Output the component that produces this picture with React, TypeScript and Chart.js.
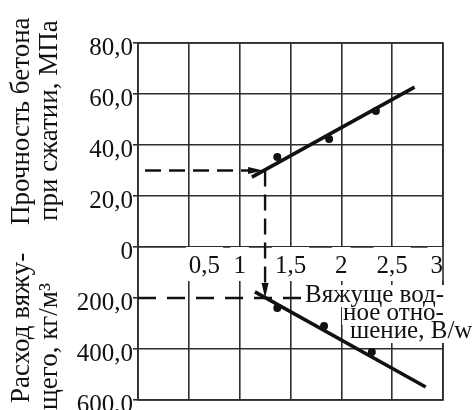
import React, { useEffect, useRef } from 'react';
import { Chart, registerables } from 'chart.js';

Chart.register(...registerables);

// ---- data ----
const xTickStep = 0.5;
const xMin = 0;
const xMax = 3;
const strengthMin = 0;
const strengthMax = 80;
const strengthStep = 20;
const binderMin = 0;
const binderMax = 600;
const binderStep = 200;

const strengthPointsWB = [1.37, 1.88, 2.34];
const strengthPoints = [35.3, 42.4, 53.3];
const strengthFitWB = [1.12, 2.72];
const strengthFit = [27.4, 62.7];

const binderPointsWB = [1.37, 1.83, 2.3];
const binderPoints = [239, 310, 412];
const binderFitWB = [1.15, 2.83];
const binderFit = [176, 549];

const guideWB = 1.25;
const guideStrength = 30;
const guideBinder = 200;
const guideStrengthLineWB = [0, 1.23];
const guideBinderLineWB = [0, 1.62];

const strengthTitle = ['Прочность бетона', 'при сжатии, МПа'];
const binderTitle = ['Расход вяжу-', 'щего, кг/м³'];
const ratioLabel = ['Вяжуще вод-', 'ное отно-', 'шение, B/w'];

// ---- styles ----
const SERIF = "'Liberation Serif', 'Times New Roman', serif";
const INK = '#111111';
const GRID = '#2e2e2e';

const fmtY = (v: number) => (v === 0 ? '0' : v.toFixed(1).replace('.', ','));

const overlayPlugin = {
  id: 'overlay',
  beforeDatasetsDraw(chart: any) {
    const { ctx, chartArea: a } = chart;
    ctx.save();
    ctx.strokeStyle = GRID;
    ctx.lineWidth = 1.6;
    ctx.strokeRect(a.left, a.top, a.right - a.left, a.bottom - a.top);
    const xs = [305, 343, 350];
    const ys = [302, 320, 338];
    ctx.font = `25px ${SERIF}`;
    ctx.textBaseline = 'alphabetic';
    ctx.textAlign = 'left';
    ratioLabel.forEach((t, i) => {
      const w = ctx.measureText(t).width;
      ctx.fillStyle = '#ffffff';
      ctx.fillRect(xs[i] - 1, ys[i] - 17, w + 2, 22);
    });
    ctx.fillStyle = INK;
    ratioLabel.forEach((t, i) => ctx.fillText(t, xs[i], ys[i]));
    ctx.restore();
  },
  afterDatasetsDraw(chart: any) {
    const { ctx } = chart;
    const sx = chart.scales.x;
    const sy = chart.scales.y;
    const sy2 = chart.scales.y2;
    const x = sx.getPixelForValue(guideWB);
    const yTop = sy.getPixelForValue(guideStrength);
    const yBot = sy2.getPixelForValue(guideBinder);
    ctx.save();
    ctx.strokeStyle = INK;
    ctx.lineWidth = 2.4;
    ctx.setLineDash([16, 8]);
    ctx.beginPath();
    ctx.moveTo(x, yTop);
    ctx.lineTo(x, yBot - 8);
    ctx.stroke();
    ctx.setLineDash([]);
    ctx.fillStyle = INK;
    ctx.beginPath();
    ctx.moveTo(x, yBot);
    ctx.lineTo(x - 3.5, yBot - 15);
    ctx.lineTo(x + 3.5, yBot - 15);
    ctx.closePath();
    ctx.fill();
    const ax = sx.getPixelForValue(guideStrengthLineWB[1]);
    ctx.beginPath();
    ctx.moveTo(ax, yTop);
    ctx.lineTo(ax - 15, yTop - 3.5);
    ctx.lineTo(ax - 15, yTop + 3.5);
    ctx.closePath();
    ctx.fill();
    ctx.restore();
  },
  afterDraw(chart: any) {
    const { ctx } = chart;
    ctx.save();
    ctx.font = `27px ${SERIF}`;
    ctx.fillStyle = INK;
    ctx.textAlign = 'left';
    ctx.textBaseline = 'alphabetic';
    const put = (t: string, bx: number, startY: number) => {
      ctx.save();
      ctx.translate(bx, startY);
      ctx.rotate(-Math.PI / 2);
      ctx.fillText(t, 0, 0);
      ctx.restore();
    };
    put(strengthTitle[0], 29, 225);
    put(strengthTitle[1], 57, 221);
    put(binderTitle[0], 29, 403);
    put(binderTitle[1], 57, 410);
    ctx.restore();
  },
};

export default function App() {
  const ref = useRef<HTMLCanvasElement | null>(null);
  useEffect(() => {
    if (!ref.current) return;
    const pts = (xs: number[], ys: number[]) => xs.map((x, i) => ({ x, y: ys[i] }));
    const chart = new Chart(ref.current, {
      type: 'scatter',
      data: {
        datasets: [
          {
            data: pts(guideStrengthLineWB, [guideStrength, guideStrength]),
            yAxisID: 'y',
            showLine: true,
            borderColor: INK,
            borderWidth: 2.4,
            borderDash: [16, 8],
            borderDashOffset: 17,
            pointRadius: 0,
          },
          {
            data: pts(guideBinderLineWB, [guideBinder, guideBinder]),
            yAxisID: 'y2',
            showLine: true,
            borderColor: INK,
            borderWidth: 2.4,
            borderDash: [18, 11],
            pointRadius: 0,
          },
          {
            data: pts(strengthFitWB, strengthFit),
            yAxisID: 'y',
            showLine: true,
            borderColor: INK,
            borderWidth: 3.5,
            pointRadius: 0,
          },
          {
            data: pts(strengthPointsWB, strengthPoints),
            yAxisID: 'y',
            pointRadius: 4,
            backgroundColor: INK,
            borderWidth: 0,
          },
          {
            data: pts(binderFitWB, binderFit),
            yAxisID: 'y2',
            showLine: true,
            borderColor: INK,
            borderWidth: 3.5,
            pointRadius: 0,
          },
          {
            data: pts(binderPointsWB, binderPoints),
            yAxisID: 'y2',
            pointRadius: 4,
            backgroundColor: INK,
            borderWidth: 0,
          },
        ],
      },
      options: {
        animation: false,
        responsive: false,
        devicePixelRatio: 1,
        layout: { padding: { left: 0, top: 43, right: 32, bottom: 10 } },
        plugins: { legend: { display: false }, tooltip: { enabled: false } },
        scales: {
          x: {
            type: 'linear',
            position: { y2: 0 } as any,
            min: xMin,
            max: xMax,
            ticks: {
              stepSize: xTickStep,
              autoSkip: false,
              callback: (v: any) => (v === 0 ? null : String(v).replace('.', ',')),
              font: { family: SERIF, size: 25 },
              color: INK,
              padding: 4,
              maxRotation: 0,
              minRotation: 0,
              align: 'inner',
              showLabelBackdrop: true,
              backdropColor: '#ffffff',
              backdropPadding: { top: 4, bottom: 0, left: 3, right: 3 },
            } as any,
            grid: { color: GRID, lineWidth: 1.6, drawTicks: false },
            border: { display: true, color: GRID, width: 1.6 },
            afterFit: (s: any) => {
              s.height = 0;
              s.paddingLeft = 0;
              s.paddingRight = 0;
            },
          },
          y2: {
            type: 'linear',
            position: 'left',
            stack: 'panels',
            stackWeight: 3,
            reverse: true,
            min: binderMin,
            max: binderMax,
            ticks: {
              stepSize: binderStep,
              autoSkip: false,
              callback: (v: any) => (v === 0 ? null : fmtY(v)),
              font: { family: SERIF, size: 25 },
              color: INK,
              padding: 0,
              labelOffset: 5,
            },
            grid: {
              color: (c: any) => (c.tick && c.tick.value === guideBinder ? 'rgba(0,0,0,0)' : GRID),
              lineWidth: 1.6,
              tickLength: 5,
              tickColor: GRID,
            },
            border: { color: GRID, width: 1.6 },
            afterFit: (s: any) => {
              s.width = 138;
              s.paddingTop = 0;
              s.paddingBottom = 0;
            },
          },
          y: {
            type: 'linear',
            position: 'left',
            stack: 'panels',
            stackWeight: 4,
            min: strengthMin,
            max: strengthMax,
            ticks: {
              stepSize: strengthStep,
              autoSkip: false,
              callback: (v: any) => fmtY(v),
              font: { family: SERIF, size: 25 },
              color: INK,
              padding: 0,
              labelOffset: 5,
            },
            grid: { color: GRID, lineWidth: 1.6, tickLength: 5, tickColor: GRID },
            border: { color: GRID, width: 1.6 },
            afterFit: (s: any) => {
              s.width = 138;
              s.paddingTop = 0;
              s.paddingBottom = 0;
            },
          },
        },
      } as any,
      plugins: [overlayPlugin],
    });
    return () => chart.destroy();
  }, []);
  return (
    <div style={{ position: 'absolute', left: 0, top: 0, width: 475, height: 410, background: '#fff' }}>
      <canvas ref={ref} width={475} height={410} style={{ display: 'block' }} />
    </div>
  );
}
